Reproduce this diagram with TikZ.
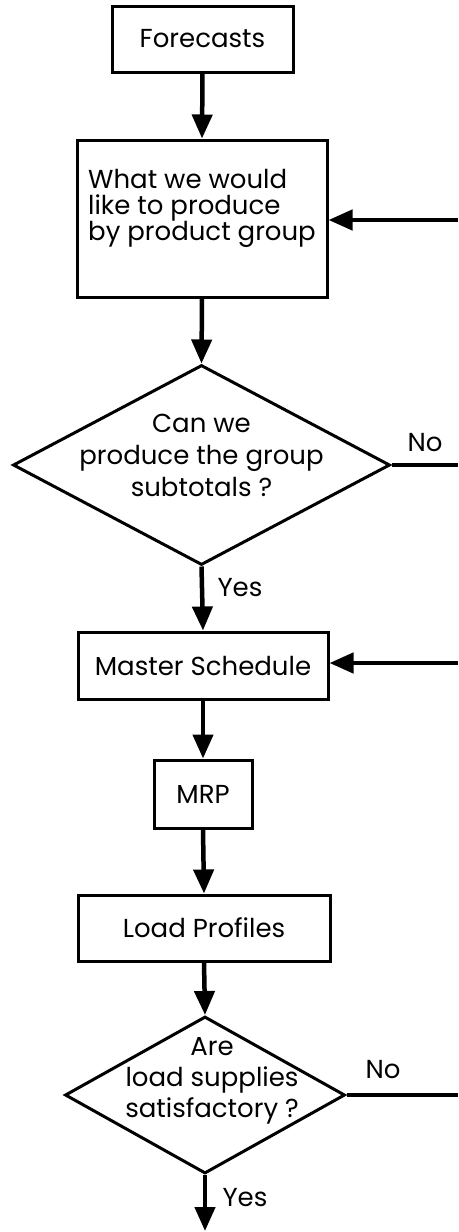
\documentclass[tikz,border=0pt]{standalone}
\usepackage{fontspec}
\setmainfont{Poppins}
\usetikzlibrary{arrows.meta,shapes.geometric}
\begin{document}
\begin{tikzpicture}[x=1pt,y=-1pt,font=\fontsize{26}{30}\selectfont,
    box/.style={draw,line width=3pt,inner sep=0pt},
    choice/.style={draw,diamond,line width=3pt,inner sep=0pt},
    flow/.style={line width=4.5pt,-{Triangle[width=20pt,length=24pt]}},
    wire/.style={line width=4.5pt}]
  \useasboundingbox (0,0) rectangle (458,1232);
  % boxes
  \node[box,minimum width=181pt,minimum height=66pt] (fc) at (202.5,39) {Forecasts};
  \node[box,minimum width=250pt,minimum height=157pt] (want) at (202,218.5) {};
  \node[align=left,anchor=north west,inner sep=0pt,font=\fontsize{26}{26}\selectfont]
    (wanttext) at (88,169) {What we would\\like to produce\\by product group};
  \node[choice,minimum width=377pt,minimum height=200pt] (dA) at (201.5,465) {};
  \node[align=center,font=\fontsize{26}{32}\selectfont] (dAtext) at (201.5,455)
    {Can we\\produce the group\\subtotals ?};
  \node[box,minimum width=250pt,minimum height=67pt] (ms) at (203,665.5) {Master Schedule};
  \node[box,minimum width=98pt,minimum height=68pt] (mrp) at (203,794) {MRP};
  \node[box,minimum width=252pt,minimum height=66pt] (lp) at (204,928) {Load Profiles};
  \node[choice,minimum width=280pt,minimum height=157pt] (dB) at (205,1095) {};
  \node[align=center,font=\fontsize{26}{31}\selectfont] (dBtext) at (212,1081)
    {Are\\load supplies\\satisfactory ?};
  % labels
  \node (noA) at (425,443) {No};
  \node (yesA) at (240,588) {Yes};
  \node (noB) at (383,1070) {No};
  \node (yesB) at (245,1198) {Yes};
  % free ends at the right edge
  \coordinate (backA) at (458,220);
  \coordinate (backB) at (458,663);
  \coordinate (outA) at (458,465);
  \coordinate (outB) at (458,1095);
  \coordinate (endB) at (205,1231);
  % connectors
  \draw[flow] (fc.south) -- (want.north);
  \draw[flow] (want.south) -- (dA.north);
  \draw[flow] (dA.south) -- (ms.north);
  \draw[flow] (ms.south) -- (mrp.north);
  \draw[flow] (mrp.south) -- (lp.north);
  \draw[flow] (lp.south) -- (dB.north);
  \draw[flow] (dB.south) -- (endB);
  \draw[wire] (dA.east) -- (outA);
  \draw[wire] (dB.east) -- (outB);
  \draw[flow] (backA) -- (backA -| want.east);
  \draw[flow] (backB) -- (backB -| ms.east);
\end{tikzpicture}
\end{document}
